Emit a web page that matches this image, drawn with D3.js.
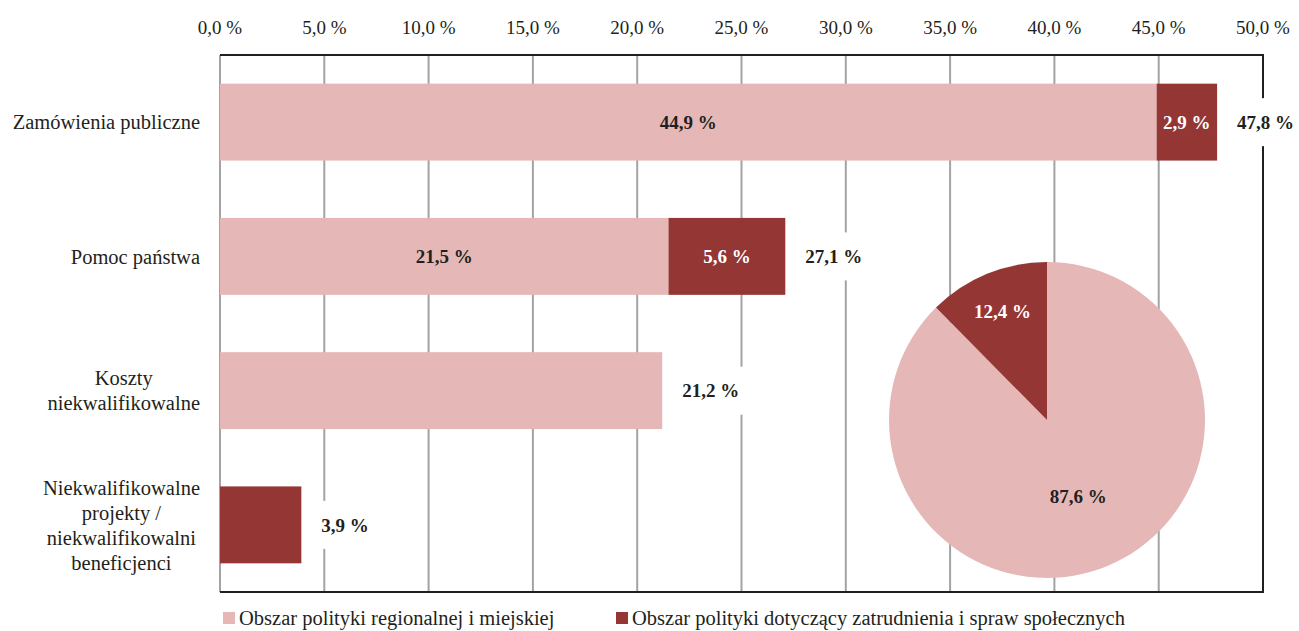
<!DOCTYPE html>
<html lang="pl">
<head>
<meta charset="UTF-8">
<title>Wykres</title>
<script src="https://d3js.org/d3.v7.min.js"></script>
<style>
  body { margin: 0; background: #fff; }
  svg text { font-family: "Liberation Serif", "DejaVu Serif", serif; fill: #231f20; }
  .tick-label { font-size: 19px; }
  .cat-label { font-size: 20.5px; }
  .val { font-size: 19px; font-weight: bold; }
  .legend-text { font-size: 20.5px; }
</style>
</head>
<body>
<svg width="1299" height="631"></svg>
<script>
  // data
  const categories = [
    ["Zamówienia publiczne"],
    ["Pomoc państwa"],
    ["Koszty", "niekwalifikowalne"],
    ["Niekwalifikowalne", "projekty /", "niekwalifikowalni", "beneficjenci"]
  ];
  const regional = [44.9, 21.5, 21.2, 0];
  const social = [2.9, 5.6, 0, 3.9];
  const totals = [47.8, 27.1, 21.2, 3.9];
  const tickValues = [0, 5, 10, 15, 20, 25, 30, 35, 40, 45, 50];
  const seriesNames = ["Obszar polityki regionalnej i miejskiej", "Obszar polityki dotyczący zatrudnienia i spraw społecznych"];
  const pieValues = [87.6, 12.4];

  const colors = ["#e5b8b7", "#943634"];

  const width = 1299, height = 631;
  const margin = { top: 55, right: 36, bottom: 39, left: 220 };
  const svg = d3.select("svg");

  const fmt = v => d3.format(".1f")(v).replace(".", ",") + " %";

  const x = d3.scaleLinear().domain([0, 50]).range([margin.left, width - margin.right]);
  const y = d3.scaleBand().domain(d3.range(categories.length))
      .range([margin.top, height - margin.bottom])
      .paddingInner(0.427).paddingOuter(0.2135);

  // gridlines
  svg.append("g").selectAll("line")
    .data(tickValues.slice(0, -1))
    .enter().append("line")
    .attr("x1", d => x(d)).attr("x2", d => x(d))
    .attr("y1", margin.top).attr("y2", height - margin.bottom)
    .attr("stroke", "#a3a3a6").attr("stroke-width", 2);

  // frame: top, right, bottom
  svg.append("path")
    .attr("d", `M${x(0)},${margin.top}H${x(50)}V${height - margin.bottom}H${x(0)}`)
    .attr("fill", "none").attr("stroke", "#231f20").attr("stroke-width", 2);

  // top axis labels
  svg.append("g").selectAll("text")
    .data(tickValues)
    .enter().append("text")
    .attr("class", "tick-label")
    .attr("x", d => x(d))
    .attr("y", 34)
    .attr("text-anchor", "middle")
    .text(d => fmt(d));

  // stacked bars
  const rows = categories.map((c, i) => ({ i, regional: regional[i], social: social[i], total: totals[i] }));
  const stack = d3.stack().keys(["regional", "social"])(rows);

  const layers = svg.append("g").selectAll("g")
    .data(stack)
    .enter().append("g")
    .attr("fill", (d, i) => colors[i]);

  layers.selectAll("rect")
    .data(d => d.filter(s => s[1] > s[0]))
    .enter().append("rect")
    .attr("x", d => x(d[0]))
    .attr("width", d => x(d[1]) - x(d[0]))
    .attr("y", d => y(d.data.i))
    .attr("height", y.bandwidth());

  // segment labels (only where a bar has both segments)
  layers.each(function (layer, li) {
    d3.select(this).selectAll("text")
      .data(layer.filter(s => s.data.regional > 0 && s.data.social > 0))
      .enter().append("text")
      .attr("class", "val")
      .attr("x", d => (x(d[0]) + x(d[1])) / 2)
      .attr("y", d => y(d.data.i) + y.bandwidth() / 2)
      .attr("dy", "0.35em")
      .attr("text-anchor", "middle")
      .style("fill", li === 0 ? "#231f20" : "#ffffff")
      .text(d => fmt(d[1] - d[0]));
  });

  // category labels
  const catG = svg.append("g");
  categories.forEach((lines, i) => {
    const lh = 25;
    const g = catG.append("g");
    const t = g.selectAll("text").data(lines).enter().append("text")
      .attr("class", "cat-label")
      .attr("y", (d, k) => y(i) + y.bandwidth() / 2 + (k - (lines.length - 1) / 2) * lh)
      .attr("dy", "0.35em")
      .attr("text-anchor", "middle")
      .text(d => d);
    let maxW = 0;
    t.each(function () { maxW = Math.max(maxW, this.getComputedTextLength()); });
    t.attr("x", 200 - maxW / 2);
  });

  // total labels with white background
  const totG = svg.append("g").selectAll("g")
    .data(rows).enter().append("g");
  totG.each(function (d) {
    const g = d3.select(this);
    const tx = x(d.total) + 20;
    const cy = y(d.i) + y.bandwidth() / 2;
    const rect = g.append("rect").attr("fill", "#fff");
    const t = g.append("text").attr("class", "val")
      .attr("x", tx).attr("y", cy).attr("dy", "0.35em")
      .text(fmt(d.total));
    const w = t.node().getComputedTextLength();
    rect.attr("x", tx - 6).attr("width", w + 12)
      .attr("y", cy - 24).attr("height", 48);
  });

  // pie
  const pcx = 1047, pcy = 420, pr = 158;
  const pie = d3.pie().sort(null)(pieValues);
  const arc = d3.arc().innerRadius(0).outerRadius(pr);
  const pieG = svg.append("g").attr("transform", `translate(${pcx},${pcy})`);
  pieG.selectAll("path").data(pie).enter().append("path")
    .attr("d", arc).attr("fill", (d, i) => colors[i]);
  const labelR = [0.52, 0.74];
  pieG.selectAll("text").data(pie).enter().append("text")
    .attr("class", "val")
    .attr("transform", (d, i) => {
      const a = d3.arc().innerRadius(pr * labelR[i]).outerRadius(pr * labelR[i]);
      return `translate(${a.centroid(d)})`;
    })
    .attr("dy", "0.35em")
    .attr("text-anchor", "middle")
    .style("fill", (d, i) => i === 0 ? "#231f20" : "#ffffff")
    .text(d => fmt(d.data));

  // legend
  const legendX = [223, 616];
  const lg = svg.append("g").selectAll("g").data(seriesNames).enter().append("g")
    .attr("transform", (d, i) => `translate(${legendX[i]},612)`);
  lg.append("rect").attr("width", 12).attr("height", 12).attr("fill", (d, i) => colors[i]);
  lg.append("text").attr("class", "legend-text").attr("x", 16).attr("y", 13).text(d => d);
</script>
</body>
</html>
